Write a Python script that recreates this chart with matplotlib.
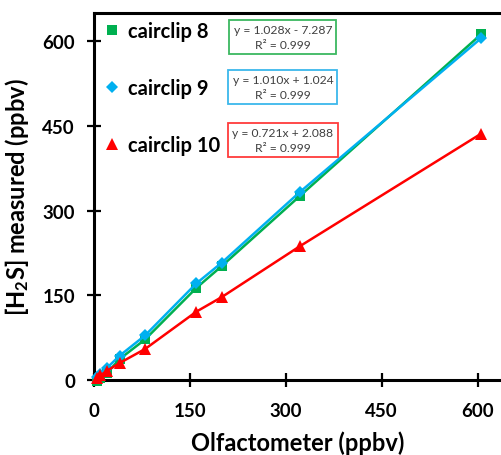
import matplotlib
matplotlib.use("Agg")
import matplotlib.pyplot as plt
from matplotlib.lines import Line2D

plt.rcParams['font.family'] = ['Lato', 'DejaVu Sans']
plt.rcParams['mathtext.fontset'] = 'custom'
plt.rcParams['mathtext.rm'] = 'Lato'
plt.rcParams['mathtext.bf'] = 'Lato:bold'
plt.rcParams['mathtext.default'] = 'bf'

# Data
olfactometer = [5, 10, 20, 40, 80, 160, 200, 322, 605]
cairclip8 = [-1, 3, 12, 37, 72, 163, 202, 326, 612]
cairclip9 = [5, 11, 21, 43, 79, 171, 208, 333, 605]
cairclip10 = [4, 8, 16, 30, 55, 121, 147, 237, 436]
series_names = ["cairclip 8", "cairclip 9", "cairclip 10"]
equations = ["y = 1.028x - 7.287\nR\u00b2 = 0.999",
             "y = 1.010x + 1.024\nR\u00b2 = 0.999",
             "y = 0.721x + 2.088\nR\u00b2 = 0.999"]
ticks = [0, 150, 300, 450, 600]

colors = ["#00b050", "#00b0f0", "#ff0000"]
box_colors = ["#3cb860", "#3cb8ec", "#ff3b3b"]
markers = ["s", "D", "^"]
msizes = [7, 6.5, 8]

W, H = 502, 456
fig = plt.figure(figsize=(W / 100, H / 100), dpi=100)
ax = fig.add_axes([94 / W, 75 / H, (W - 94) / W, 367 / H])

for ys, c, m, ms in zip([cairclip8, cairclip9, cairclip10], colors, markers, msizes):
    ax.plot(olfactometer, ys, color=c, lw=1.8, marker=m, ms=ms,
            markeredgewidth=0, clip_on=False, zorder=3)

ax.set_xlim(0, 638)
ax.set_ylim(0, 650)
ax.set_xticks(ticks)
ax.set_yticks(ticks)
ax.spines['right'].set_visible(False)
for s in ['left', 'bottom', 'top']:
    ax.spines[s].set_linewidth(2.2)
ax.tick_params(direction='inout', length=9.5, width=1.6, labelsize=13.5)
ax.tick_params(axis='x', pad=11)
ax.tick_params(axis='y', pad=9)
for lab in ax.get_xticklabels() + ax.get_yticklabels():
    lab.set_fontweight('bold')

ax.set_xlabel("Olfactometer (ppbv)", fontsize=17, fontweight='bold', labelpad=8)
ax.set_ylabel("[H$_2$S] measured (ppbv)", fontsize=17, fontweight='bold', labelpad=8)

handles = [Line2D([], [], color=c, marker=m, ms=ms, ls='none', markeredgewidth=0)
           for c, m, ms in zip(colors, markers, msizes)]
leg = ax.legend(handles, series_names, loc='upper left', bbox_to_anchor=(0.0, 1.0),
                frameon=False, prop={'weight': 'bold', 'size': 14.5},
                labelspacing=1.83, handletextpad=0.3, handlelength=1.0,
                borderaxespad=0.0)

box_y = [0.935, 0.798, 0.654]
for txt, bc, yy in zip(equations, box_colors, box_y):
    ax.text(0.463, yy, txt, transform=ax.transAxes, ha='center', va='center',
            fontsize=8.7, color='#404040', linespacing=1.4,
            bbox=dict(boxstyle='square,pad=0.35', fc='white', ec=bc, lw=1.3))

fig.savefig("out.png", dpi=100)
